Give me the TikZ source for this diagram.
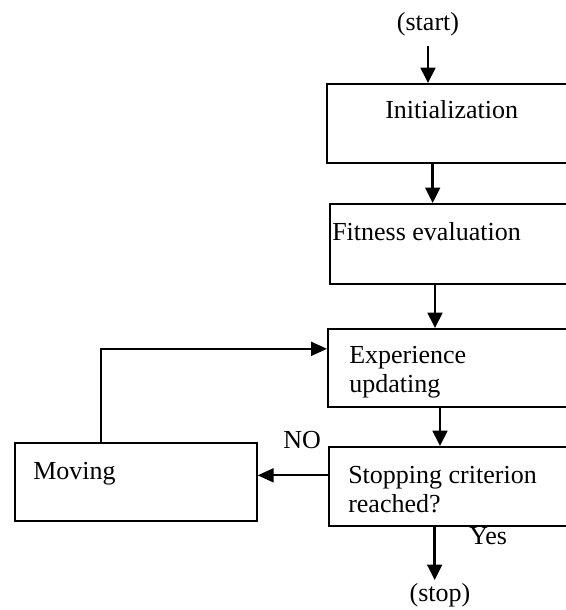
\documentclass[tikz,border=0pt]{standalone}
\usepackage{fontspec}
\setmainfont{Liberation Serif}
\usetikzlibrary{arrows.meta}

\tikzset{
  box/.style={draw, line width=1.25pt, rectangle, anchor=north west,
              inner sep=0pt, minimum width=210pt},
  txt/.style={font=\fontsize{19.5}{21.75}\selectfont, inner sep=0pt,
              anchor=base west, align=left},
  term/.style={font=\fontsize{19.5}{21.75}\selectfont, inner sep=0pt,
               anchor=base},
  flow/.style={-{Triangle[length=11.5pt,width=11pt]}, line width=2pt},
  back/.style={-{Triangle[length=12pt,width=10.5pt]}, line width=1.5pt},
}

\begin{document}
\begin{tikzpicture}[x=0.75pt, y=-0.75pt]
  \clip (0,0) rectangle (566,610);

  % the boxes
  \node[box, minimum height=59.25pt] (init) at (326,83)  {};
  \node[box, minimum height=60pt]    (fit)  at (329,203) {};
  \node[box, minimum height=58.5pt]  (exp)  at (327,328) {};
  \node[box, minimum height=59.25pt] (stp)  at (328,446) {};
  \node[box, minimum height=58.5pt, minimum width=181.5pt] (mov) at (14,442) {};

  % the texts (base of a two-line text is its last line)
  \node[txt] (initT) at (385,118) {Initialization};
  \node[txt] (fitT)  at (332,240) {Fitness evaluation};
  \node[txt] (expT)  at (349,392) {Experience\\updating};
  \node[txt] (stpT)  at (348,512) {Stopping criterion\\reached?};
  \node[txt] (movT)  at (33,479)  {Moving};
  \node[txt] (no)    at (283,448) {NO};
  \node[txt] (yes)   at (469,544) {Yes};

  \node[term] (start) at (428,31)  {(start)};
  \node[term] (stop)  at (440,601) {(stop)};

  % the connectors
  \draw[flow] ([yshift=-7pt]start.south) -- (start.south |- init.north);

  \coordinate (a1) at ([xshift=80pt]init.south west);
  \draw[flow] (a1) -- (a1 |- fit.north);

  \coordinate (a2) at ([xshift=79.5pt]fit.south west);
  \draw[flow] (a2) -- (a2 |- exp.north);

  \coordinate (a3) at ([xshift=84.75pt]exp.south west);
  \draw[flow] (a3) -- (a3 |- stp.north);

  \coordinate (a4) at ([xshift=80pt]stp.south west);
  \draw[flow] (a4) -- ([yshift=2pt]a4 |- stop.north);

  \coordinate (a5) at ([yshift=8.25pt]stp.west);
  \draw[back] (a5) -- (a5 -| mov.east);

  \draw[back] ([xshift=65.25pt]mov.north west) |- ([yshift=14.25pt]exp.west);
\end{tikzpicture}
\end{document}
